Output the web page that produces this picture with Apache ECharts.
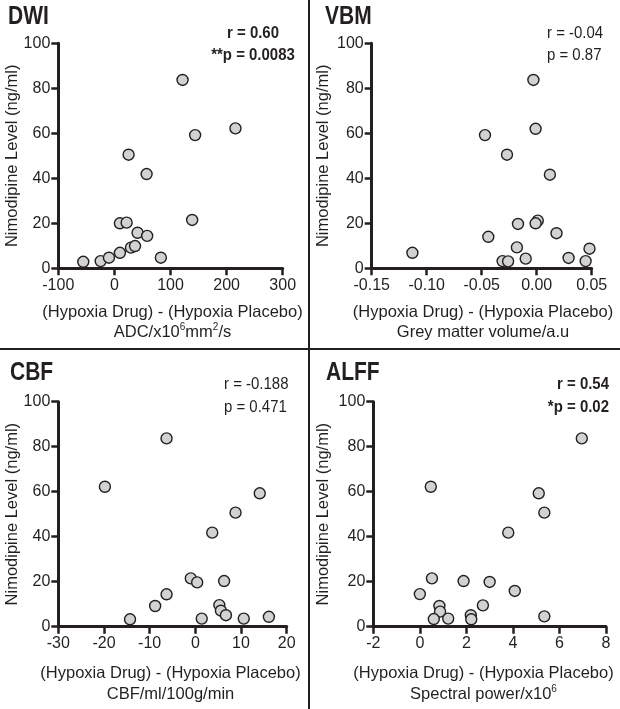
<!DOCTYPE html>
<html><head><meta charset="utf-8">
<script src="https://cdn.jsdelivr.net/npm/echarts@6/dist/echarts.min.js"></script>
<style>html,body{margin:0;padding:0;background:#fff}#c{width:620px;height:709px}</style>
</head><body><div id="c"></div>
<script>
// ---- data ----
const dwiX = [-55.5, -24.5, -9.7, 9.8, 29.5, 36.8, 9.8, 21.8, 25.3, 41.3, 58.4, 57.4, 82.8, 121.5, 138.6, 143.9, 215.8];
const dwiY = [2.9, 3.2, 4.7, 6.9, 9.2, 9.9, 20.0, 20.3, 50.5, 15.8, 14.4, 41.9, 4.7, 83.7, 21.5, 59.2, 62.2];
const vbmX = [-0.003, -0.001, -0.047, -0.027, 0.012, 0.001, -0.001, -0.017, 0.018, -0.044, -0.018, 0.048, -0.113, -0.010, 0.029, -0.031, -0.026, 0.0445];
const vbmY = [83.7, 62.0, 59.2, 50.5, 41.6, 21.2, 20.0, 19.7, 15.6, 14.0, 9.3, 8.7, 6.9, 4.3, 4.6, 3.2, 3.1, 3.2];
const cbfX = [-6.3, -19.8, 14.1, 8.8, 3.7, -1.0, 0.4, 6.3, -6.3, -8.8, 5.25, 5.6, 6.7, 16.1, -14.3, 1.4, 10.6];
const cbfY = [83.7, 62.2, 59.3, 50.7, 41.8, 21.5, 19.7, 20.3, 14.4, 9.2, 9.6, 7.1, 5.1, 4.4, 3.3, 3.6, 3.6];
const alffX = [6.96, 0.47, 5.11, 5.35, 3.8, 0.52, 1.88, 3.0, 4.08, 0.0, 2.71, 0.84, 0.87, 2.19, 5.35, 0.6, 1.22, 2.21];
const alffY = [83.7, 62.2, 59.3, 50.7, 41.8, 21.5, 20.3, 19.9, 15.9, 14.5, 9.5, 9.2, 6.7, 5.1, 4.6, 3.4, 3.6, 3.3];

const panelTitles = ['DWI', 'VBM', 'CBF', 'ALFF'];
const statR = ['r = 0.60', 'r = -0.04', 'r = -0.188', 'r = 0.54'];
const statP = ['**p = 0.0083', 'p = 0.87', 'p = 0.471', '*p = 0.02'];
const statBold = [true, false, false, true];
const xRanges = [[-100, 300, 100], [-0.15, 0.05, 0.05], [-30, 20, 10], [-2, 8, 2]];
const yRange = [0, 100, 20];
const yTitle = 'Nimodipine Level (ng/ml)';
const xTitle1 = '(Hypoxia Drug) - (Hypoxia Placebo)';
const xTitle2 = ['{n|ADC/x10}{s|6}{n|mm}{s|2}{n|/s}', '{n|Grey matter volume/a.u}', '{n|CBF/ml/100g/min}', '{n|Spectral power/x10}{s|6}'];

// ---- layout ----
const FONT = '"Liberation Sans", Arial, Helvetica, sans-serif';
const INK = '#231f20';
const grids = [
  {left: 58.3, top: 43.3, width: 224.4, height: 225},
  {left: 371.7, top: 43.3, width: 220, height: 225},
  {left: 58.3, top: 401.7, width: 228.4, height: 225},
  {left: 373.3, top: 401.7, width: 232.7, height: 225}
];
const series = [[dwiX, dwiY], [vbmX, vbmY], [cbfX, cbfY], [alffX, alffY]];

const xAxes = xRanges.map((r, i) => ({
  type: 'value', gridIndex: i, min: r[0], max: r[1], interval: r[2],
  axisLine: {onZero: false, lineStyle: {color: INK, width: 3}},
  axisTick: {length: 7, lineStyle: {color: INK, width: 2.5}},
  axisLabel: {color: INK, fontSize: 16, fontFamily: FONT, margin: 9,
    formatter: v => i === 1 ? v.toFixed(2) : String(Math.round(v))},
  splitLine: {show: false}
}));
const yAxes = grids.map((g, i) => ({
  type: 'value', gridIndex: i, min: yRange[0], max: yRange[1], interval: yRange[2],
  axisLine: {show: true, onZero: false, lineStyle: {color: INK, width: 3}},
  axisTick: {show: true, length: 7, lineStyle: {color: INK, width: 2.5}},
  axisLabel: {color: INK, fontSize: 16, fontFamily: FONT, margin: 8},
  splitLine: {show: false}
}));
const ser = series.map((s, i) => ({
  type: 'scatter', xAxisIndex: i, yAxisIndex: i,
  data: s[0].map((x, k) => [x, s[1][k]]),
  symbol: 'circle', symbolSize: 11,
  itemStyle: {color: '#d2d2d2', borderColor: INK, borderWidth: 1.4, opacity: 1}
}));

// text placements
const titlePos = [[8, 17.5], [325, 17.5], [10, 373.5], [326, 373.5]];
const statPos = [[253, 'center'], [547, 'left'], [224, 'left'], [609, 'right']];
const statY = [[33, 55], [33, 55], [384.5, 407], [384.5, 407]];
const yTitlePos = [[12.5, 155.8], [323.5, 155.8], [12.5, 514.2], [323.5, 514.2]];
const xTitleX = [172.5, 483, 170.5, 483.5];
const xTitleY = [[312, 332.5], [312, 332.5], [673.5, 694], [673.5, 694]];

const graphic = [];
for (let i = 0; i < 4; i++) {
  graphic.push({type: 'text', x: titlePos[i][0], y: titlePos[i][1], scaleX: 0.84,
    style: {text: panelTitles[i], font: 'bold 25px ' + FONT, fill: INK,
      textAlign: 'left', textVerticalAlign: 'middle'}});
  const w = statBold[i] ? 'bold ' : '';
  [statR[i], statP[i]].forEach((t, k) => {
    graphic.push({type: 'text', x: statPos[i][0], y: statY[i][k], scaleX: 0.88,
      style: {text: t, font: w + '17px ' + FONT, fill: INK,
        textAlign: statPos[i][1], textVerticalAlign: 'middle'}});
  });
  graphic.push({type: 'text', x: yTitlePos[i][0], y: yTitlePos[i][1], rotation: Math.PI / 2,
    style: {text: yTitle, font: '16.5px ' + FONT, fill: INK,
      textAlign: 'center', textVerticalAlign: 'middle'}});
  graphic.push({type: 'text', x: xTitleX[i], y: xTitleY[i][0],
    style: {text: xTitle1, font: '16.5px ' + FONT, fill: INK,
      textAlign: 'center', textVerticalAlign: 'middle'}});
  graphic.push({type: 'text', x: xTitleX[i], y: xTitleY[i][1],
    style: {text: xTitle2[i], fill: INK, textAlign: 'center', textVerticalAlign: 'middle',
      rich: {
        n: {fontSize: 16.5, fontFamily: FONT, color: INK, lineHeight: 20},
        s: {fontSize: 10, fontFamily: FONT, color: INK, lineHeight: 11, verticalAlign: 'top'}
      }}});
}
// panel dividers
graphic.push({type: 'rect', shape: {x: 308, y: 0, width: 2, height: 709}, style: {fill: INK}});
graphic.push({type: 'rect', shape: {x: 0, y: 348, width: 620, height: 2}, style: {fill: INK}});

const chart = echarts.init(document.getElementById('c'), null, {renderer: 'canvas'});
chart.setOption({
  animation: false,
  backgroundColor: '#ffffff',
  textStyle: {fontFamily: FONT},
  grid: grids,
  xAxis: xAxes,
  yAxis: yAxes,
  series: ser,
  graphic: graphic
});
</script>
</body></html>
